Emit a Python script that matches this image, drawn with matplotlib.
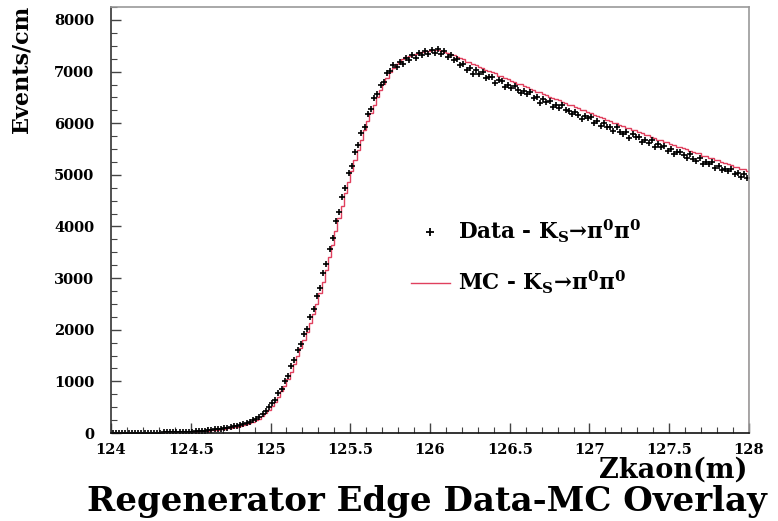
import numpy as np
import matplotlib
matplotlib.use("Agg")
import matplotlib.pyplot as plt
from matplotlib.ticker import MultipleLocator, FuncFormatter
from matplotlib.lines import Line2D

plt.rcParams['font.family'] = ['DejaVu Serif']
plt.rcParams['mathtext.fontset'] = 'custom'
plt.rcParams['mathtext.rm'] = 'DejaVu Serif:bold'
plt.rcParams['mathtext.bf'] = 'DejaVu Serif:bold'

# ---- data -------------------------------------------------------------
z_min, z_max, n_bins = 124.0, 128.0, 200

data_counts = [
    1, 0, 2, 1, 3, 2, 2, 4, 3, 5, 4, 6, 5, 7, 8,
    9, 10, 11, 12, 14, 15, 17, 19, 22, 25,
    28, 32, 37, 42, 48, 54, 61, 68, 76, 85,
    95, 105, 116, 128, 142, 158, 176, 196, 220, 248, 280, 318, 362, 430, 510,
    580, 645, 780, 860, 1015, 1110, 1295, 1405, 1610, 1720,
    1910, 2020, 2255, 2405, 2650, 2810, 3095, 3270, 3570, 3775,
    4100, 4280, 4575, 4745, 5030, 5180, 5435, 5570, 5815, 5935,
    6170, 6275, 6485, 6560, 6740, 6805, 6980, 7010, 7130, 7095,
    7185, 7150, 7255, 7220, 7320, 7255, 7355, 7315, 7405, 7345,
    7425, 7355, 7435, 7340, 7395, 7285, 7325, 7220, 7235, 7130,
    7140, 7038, 7067, 6960, 7040, 6951, 7001, 6881, 6888, 6887,
    6780, 6830, 6821, 6696, 6738, 6677, 6727, 6641, 6583, 6625,
    6559, 6601, 6487, 6505, 6401, 6473, 6414, 6438, 6317, 6358,
    6288, 6353, 6248, 6245, 6170, 6227, 6158, 6080, 6145, 6092,
    6116, 6006, 6037, 5941, 6011, 5925, 5929, 5851, 5935, 5839,
    5795, 5826, 5722, 5801, 5727, 5742, 5643, 5676, 5616, 5669,
    5531, 5592, 5547, 5564, 5464, 5507, 5407, 5444, 5448, 5376,
    5333, 5403, 5315, 5277, 5324, 5204, 5254, 5212, 5241, 5139,
    5176, 5085, 5120, 5070, 5121, 5016, 5029, 4963, 5014, 4949,
]

mc_counts = [
    0, 1, 1, 2, 2, 3, 3, 3, 4, 4, 5, 5, 6, 6, 7,
    8, 9, 10, 11, 12, 13, 15, 17, 19, 22,
    25, 28, 32, 36, 41, 46, 52, 58, 65, 73,
    82, 91, 101, 112, 124, 138, 154, 172, 193, 218, 246, 280, 322, 380, 455,
    525, 606, 700, 804, 918, 1046, 1190, 1340, 1490, 1640,
    1794, 1954, 2122, 2306, 2500, 2704, 2922, 3156, 3400, 3650,
    3904, 4160, 4406, 4642, 4868, 5080, 5280, 5480, 5676, 5862,
    6038, 6204, 6360, 6506, 6642, 6768, 6884, 6986, 7070, 7140,
    7195, 7240, 7275, 7305, 7330, 7350, 7368, 7382, 7395, 7405,
    7410, 7416, 7420, 7405, 7385, 7362, 7338, 7313, 7288, 7262,
    7236, 7194, 7178, 7143, 7130, 7086, 7067, 7028, 7020, 6983,
    6964, 6923, 6908, 6873, 6862, 6818, 6800, 6762, 6755, 6719,
    6701, 6660, 6646, 6612, 6601, 6558, 6541, 6503, 6497, 6462,
    6444, 6404, 6391, 6358, 6348, 6306, 6289, 6253, 6247, 6212,
    6196, 6157, 6144, 6112, 6103, 6062, 6046, 6010, 6005, 5971,
    5955, 5917, 5905, 5874, 5865, 5825, 5810, 5775, 5770, 5737,
    5723, 5685, 5674, 5643, 5636, 5596, 5582, 5547, 5544, 5512,
    5497, 5460, 5450, 5420, 5414, 5375, 5361, 5327, 5325, 5293,
    5280, 5244, 5235, 5205, 5199, 5161, 5148, 5116, 5114, 5083,
]

x_ticks = [124, 124.5, 125, 125.5, 126, 126.5, 127, 127.5, 128]
y_ticks = [0, 1000, 2000, 3000, 4000, 5000, 6000, 7000, 8000]

label_data = r'Data - K$_\mathbf{S}$→π$^\mathbf{0}$π$^\mathbf{0}$'
label_mc = r'MC - K$_\mathbf{S}$→π$^\mathbf{0}$π$^\mathbf{0}$'
x_title = 'Zkaon(m)'
y_title = 'Events/cm'
main_title = 'Regenerator Edge Data-MC Overlay'

# ---- figure -----------------------------------------------------------
edges = np.linspace(z_min, z_max, n_bins + 1)
centers = 0.5 * (edges[:-1] + edges[1:])

fig = plt.figure(figsize=(7.78, 5.21), dpi=100)
ax = fig.add_axes([0.1427, 0.1689, 0.8200, 0.8177])

red = '#e0405e'
ax.stairs(mc_counts, edges, color=red, lw=1.0, baseline=0)
ax.plot(centers, data_counts, linestyle='none', marker='+', ms=4.0,
        mew=1.2, color='black')

ax.set_xlim(z_min, z_max)
ax.set_ylim(0, 8252)

ax.set_xticks(x_ticks)
ax.set_yticks(y_ticks)
ax.xaxis.set_minor_locator(MultipleLocator(0.1))
ax.yaxis.set_minor_locator(MultipleLocator(250))
ax.xaxis.set_major_formatter(FuncFormatter(lambda v, p: f'{v:g}'))
ax.yaxis.set_major_formatter(FuncFormatter(lambda v, p: f'{v:g}'))

ax.tick_params(which='both', direction='in', top=False, right=False,
               color='#444444')
ax.tick_params(axis='x', which='major', length=7, width=1, pad=7,
               labelsize=10.5)
ax.tick_params(axis='y', which='major', length=7, width=1, pad=12,
               labelsize=10.5)
ax.tick_params(which='minor', length=4, width=0.8)
for lab in ax.get_xticklabels() + ax.get_yticklabels():
    lab.set_fontweight('bold')

ax.spines['left'].set_color('#333333')
ax.spines['bottom'].set_color('#111111')
ax.spines['top'].set_color('#999999')
ax.spines['right'].set_color('#999999')
for s in ax.spines.values():
    s.set_linewidth(1.2)

handles = [
    Line2D([], [], linestyle='none', marker='+', ms=6, mew=1.3, color='black'),
    Line2D([], [], color=red, lw=1.0),
]
ax.legend(handles, [label_data, label_mc], loc='upper left',
          bbox_to_anchor=(0.44, 0.55), frameon=False,
          prop={'family': 'DejaVu Serif', 'weight': 'bold', 'size': 15.5},
          labelspacing=1.1, handlelength=1.8, handletextpad=0.4)

fig.text(0.9614, 0.097, x_title, ha='right', va='center', fontsize=19.5,
         fontweight='bold')
fig.text(0.028, 0.99, y_title, ha='center', va='top', rotation=90,
         fontsize=16, fontweight='bold')
fig.text(0.549, 0.038, main_title, ha='center', va='center', fontsize=24.5,
         fontweight='bold')

fig.savefig('out.png', dpi=100)
